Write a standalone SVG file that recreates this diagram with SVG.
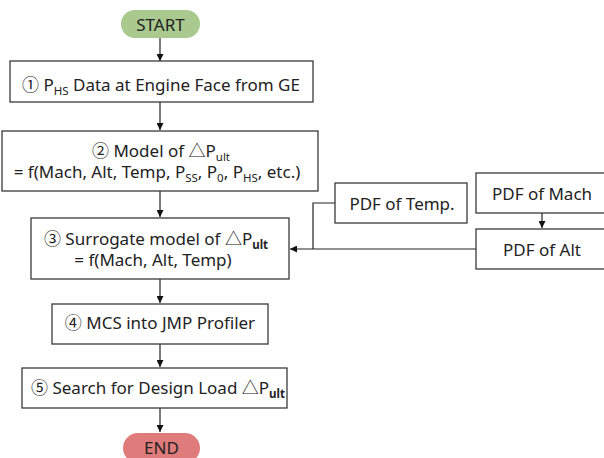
<svg xmlns="http://www.w3.org/2000/svg" width="604" height="458" viewBox="0 0 604 458">
<defs>
<style>
.box{fill:#fff;stroke:#3a3a3a;stroke-width:1.3}
.t{font-family:"Noto Sans","Noto Sans CJK KR",sans-serif;font-size:17px;fill:#222;text-anchor:middle}
.s{font-size:11.5px}
.b{font-weight:bold}
.c{fill:none;stroke:#222;stroke-width:1.2}
</style>
<marker id="ah" viewBox="0 0 10 10" refX="10" refY="5" markerWidth="7" markerHeight="7" markerUnits="userSpaceOnUse" orient="auto"><path d="M0,0 L10,5 L0,10 z" fill="#111"/></marker>
</defs>
<rect width="604" height="458" fill="#fff"/>
<g id="connectors">
<line class="c" x1="160" y1="38" x2="160" y2="61" marker-end="url(#ah)"/>
<line class="c" x1="160" y1="102" x2="160" y2="130" marker-end="url(#ah)"/>
<line class="c" x1="160" y1="191" x2="160" y2="217" marker-end="url(#ah)"/>
<line class="c" x1="160" y1="279" x2="160" y2="303" marker-end="url(#ah)"/>
<line class="c" x1="160" y1="344" x2="160" y2="367" marker-end="url(#ah)"/>
<line class="c" x1="160" y1="408" x2="160" y2="432" marker-end="url(#ah)"/>
<line class="c" x1="542" y1="213" x2="542" y2="228" marker-end="url(#ah)"/>
<line class="c" x1="476" y1="249" x2="290" y2="249" marker-end="url(#ah)"/>
<polyline class="c" points="335,203 313,203 313,249"/>
</g>
<g id="start">
<rect x="121" y="10" width="79" height="28" rx="14" fill="#a9c98f"/>
<text class="t" x="160.5" y="31">START</text>
</g>
<g id="step1">
<rect class="box" x="10" y="61" width="303" height="41"/>
<text class="t" x="161" y="91">① P<tspan class="s" dy="3.5">HS</tspan><tspan dy="-3.5"> Data at Engine Face from GE</tspan></text>
</g>
<g id="step2">
<rect class="box" x="2" y="131" width="316" height="60"/>
<text class="t" x="161" y="157">② Model of △P<tspan class="s" dy="3.5">ult</tspan></text>
<text class="t" x="157" y="178">= f(Mach, Alt, Temp, P<tspan class="s" dy="3.5">SS</tspan><tspan dy="-3.5">, P</tspan><tspan class="s" dy="3.5">0</tspan><tspan dy="-3.5">, P</tspan><tspan class="s" dy="3.5">HS</tspan><tspan dy="-3.5">, etc.)</tspan></text>
</g>
<g id="step3">
<rect class="box" x="31" y="218" width="258" height="61"/>
<text class="t" x="156" y="245">③ Surrogate model of △P<tspan class="s b" dy="3.5">ult</tspan></text>
<text class="t" x="153" y="266">= f(Mach, Alt, Temp)</text>
</g>
<g id="step4">
<rect class="box" x="52" y="304" width="216" height="40"/>
<text class="t" x="160" y="329">④ MCS into JMP Profiler</text>
</g>
<g id="step5">
<rect class="box" x="22" y="368" width="265" height="40"/>
<text class="t" x="158" y="394">⑤ Search for Design Load △P<tspan class="s b" dy="3.5">ult</tspan></text>
</g>
<g id="end">
<rect x="123" y="433" width="77" height="30" rx="15" fill="#e07b7b"/>
<text class="t" x="161.5" y="454">END</text>
</g>
<g id="pdf-temp">
<rect class="box" x="335" y="183" width="132" height="40"/>
<text class="t" x="402" y="210">PDF of Temp.</text>
</g>
<g id="pdf-mach">
<rect class="box" x="476" y="173" width="130" height="40"/>
<text class="t" x="542" y="200">PDF of Mach</text>
</g>
<g id="pdf-alt">
<rect class="box" x="476" y="229" width="130" height="40"/>
<text class="t" x="542" y="256">PDF of Alt</text>
</g>
</svg>
